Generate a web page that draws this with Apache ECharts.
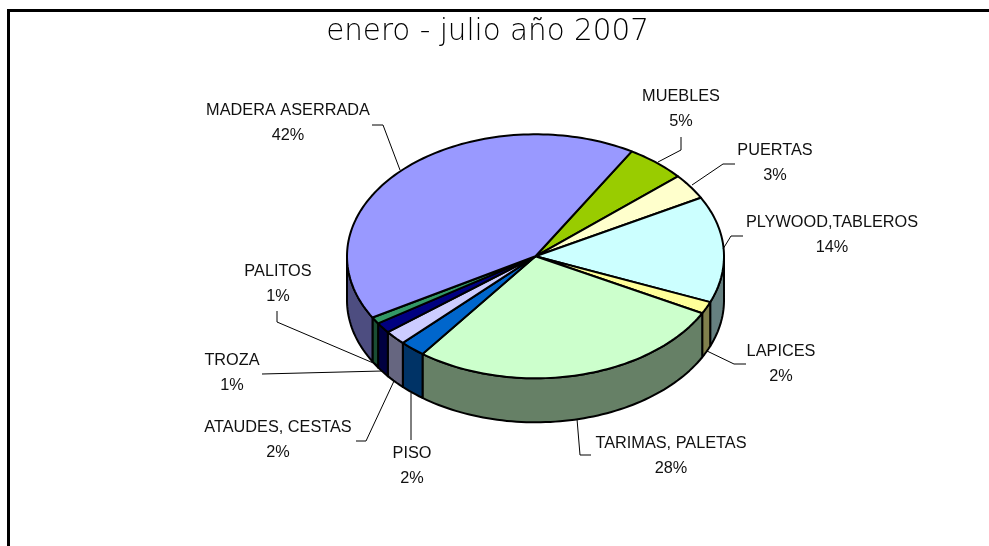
<!DOCTYPE html>
<html><head><meta charset="utf-8">
<style>html,body{margin:0;padding:0;background:#fff}#c{width:989px;height:546px}</style>
<script src="https://cdn.jsdelivr.net/npm/echarts@6/dist/echarts.min.js"></script>
</head><body><div id="c"></div>
<script>
const titleText = 'enero - julio año 2007';
const categories = ['MUEBLES','PUERTAS','PLYWOOD,TABLEROS','LAPICES','TARIMAS, PALETAS','PISO','ATAUDES, CESTAS','TROZA','PALITOS','MADERA ASERRADA'];
const shares = [5.1,3.4,14.1,1.6,27.5,2.2,1.9,1.4,0.9,41.9];
const topColors = ['#99CC00','#FFFFCC','#CCFFFF','#FFFF99','#CCFFCC','#0066CC','#CCCCFF','#000080','#339966','#9999FF'];
const sideColors = ['#4D6600','#808066','#668080','#80804D','#668066','#003366','#666680','#000040','#1A4D33','#4D4D80'];

// layout of the drawing (not data)
const pie = {cx:535.5, cy:256.3, rx:188.5, ry:122, depth:44, startAngle:30.7};
const labelPos = [[681,97],[775,151],[832,223],[781,352],[671,444],[412,454],[278,428],[232,361],[278,272],[288,111]];
const leaders = [
 [[681,137],[681,150],[658,162]],
 [[735,164],[723,164],[692,185]],
 [[743,236],[731,236],[723,249]],
 [[746,364],[734,364],[707,351]],
 [[591,455],[580,455],[577,419]],
 [[411,440],[411,393]],
 [[356,441],[366,441],[394,381]],
 [[262,374],[382,371]],
 [[277,311],[277,322],[378,365]],
 [[372,125],[383,125],[400,170]]
];

const total = shares.reduce((a,b)=>a+b,0);
const DEG = Math.PI/180;
function pt(a, dy){ return [pie.cx+pie.rx*Math.sin(a*DEG), pie.cy-pie.ry*Math.cos(a*DEG)+(dy||0)]; }
function range(i){
  let s = pie.startAngle;
  for(let k=0;k<i;k++) s += shares[k]/total*360;
  return [s, s+shares[i]/total*360];
}
function arc(a0,a1,dy){
  const n=Math.max(2,Math.ceil((a1-a0)/1.5)), out=[];
  for(let j=0;j<=n;j++) out.push(pt(a0+(a1-a0)*j/n,dy));
  return out;
}
const stroke={stroke:'#000',lineWidth:2,lineJoin:'round'};

function wall(params){
  const r=range(params.dataIndex);
  const a0=Math.max(r[0],90), a1=Math.min(r[1],270);
  if(a1<=a0) return {type:'group',children:[]};
  const pts=arc(a0,a1,0).concat(arc(a0,a1,pie.depth).reverse());
  return {type:'polygon',shape:{points:pts},style:Object.assign({fill:sideColors[params.dataIndex]},stroke)};
}
function top_(params){
  const r=range(params.dataIndex);
  const pts=[[pie.cx,pie.cy]].concat(arc(r[0],r[1],0));
  return {type:'polygon',shape:{points:pts},style:Object.assign({fill:topColors[params.dataIndex]},stroke)};
}
function label(params){
  const i=params.dataIndex, p=labelPos[i];
  const font='16.3px "Liberation Sans"';
  return {type:'group',children:[
    {type:'polyline',shape:{points:leaders[i]},style:{stroke:'#000',lineWidth:1,fill:null}},
    {type:'text',style:{text:categories[i],x:p[0],y:p[1],align:'center',verticalAlign:'middle',font:font,fill:'#111'}},
    {type:'text',style:{text:Math.round(shares[i]/total*100)+'%',x:p[0],y:p[1]+24.5,align:'center',verticalAlign:'middle',font:font,fill:'#111'}}
  ]};
}
const chart=echarts.init(document.getElementById('c'),null,{renderer:'canvas'});
chart.setOption({
  animation:false,
  backgroundColor:'#fff',
  title:{text:titleText,left:482.5,top:27,textAlign:'center',textVerticalAlign:'middle',
    textStyle:{fontFamily:'DejaVu Sans',fontWeight:200,fontSize:29.4,color:'#000'}},
  graphic:[
    {type:'rect',shape:{x:7,y:9,width:982,height:3},style:{fill:'#000'},silent:true},
    {type:'rect',shape:{x:7,y:9,width:3,height:537},style:{fill:'#000'},silent:true}
  ],
  series:[
    {type:'custom',coordinateSystem:'none',renderItem:wall,data:shares,z:1,silent:true},
    {type:'custom',coordinateSystem:'none',renderItem:top_,data:shares,z:2,silent:true},
    {type:'custom',coordinateSystem:'none',renderItem:label,data:shares,z:3,silent:true}
  ]
});
</script></body></html>
